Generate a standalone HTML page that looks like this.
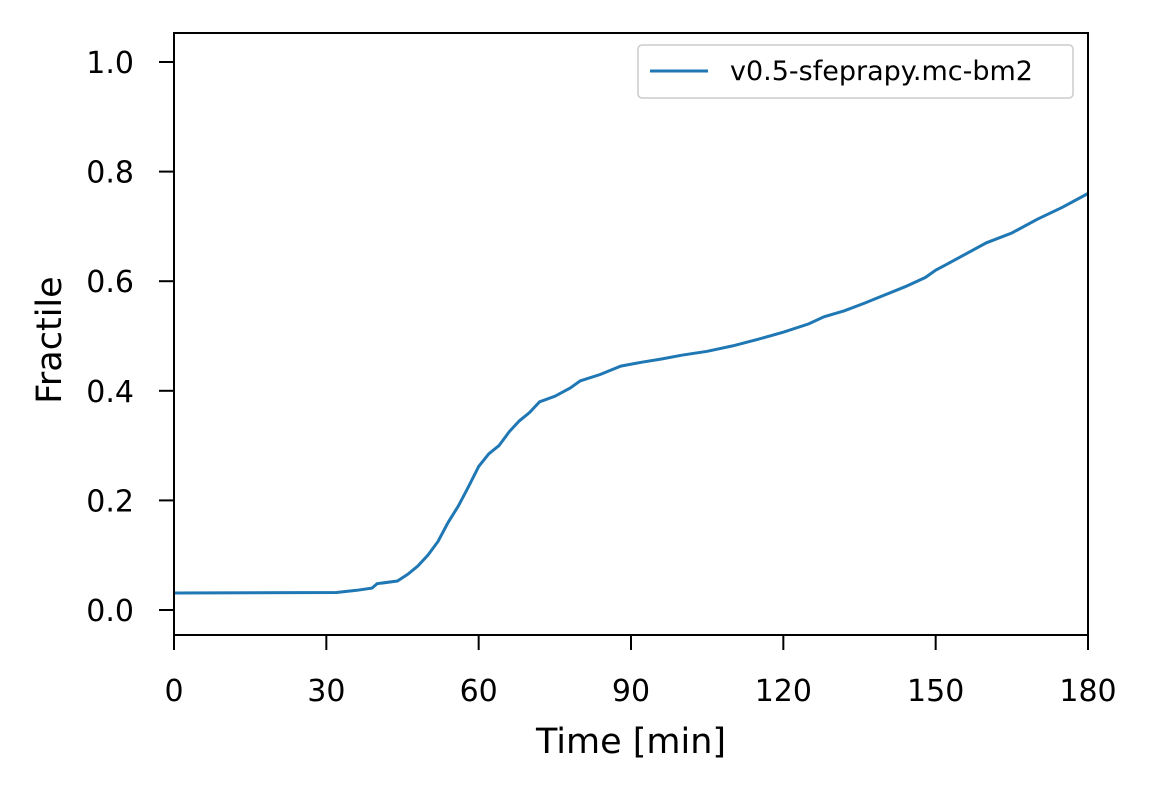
<!DOCTYPE html>
<html><head><meta charset="utf-8"><style>
body{margin:0;background:#fff}
svg{display:block;font-family:"DejaVu Sans","Liberation Sans",sans-serif}
</style></head><body>
<svg id="chart" width="1149" height="790">
<path id="series" fill="none" stroke="#1f77b4" stroke-width="3"/>
<rect x="174" y="33" width="914" height="602" fill="none" stroke="#000" stroke-width="2"/>
<g id="ticks"></g>
<text x="631" y="753" text-anchor="middle" font-size="35">Time [min]</text>
<text transform="translate(61,340) rotate(-90)" text-anchor="middle" font-size="35">Fractile</text>
<g>
<rect x="638" y="45" width="435" height="53" rx="4" fill="#fff" stroke="#ccc" stroke-width="1.5"/>
<line x1="650" y1="71" x2="708" y2="71" stroke="#1f77b4" stroke-width="3"/>
<text x="730" y="80" font-size="27">v0.5-sfeprapy.mc-bm2</text>
</g>
</svg>
<script>
const times=[0,32,36,39,40,44,46,48,50,52,54,56,58,60,62,64,66,68,70,72,75,78,80,84,88,92,96,100,105,110,115,120,125,128,132,136,140,144,148,150,152,156,160,165,170,175,180];
const fractiles=[0.031,0.032,0.036,0.04,0.048,0.053,0.065,0.08,0.10,0.125,0.16,0.19,0.225,0.262,0.285,0.30,0.325,0.345,0.36,0.38,0.39,0.405,0.418,0.43,0.445,0.452,0.458,0.465,0.472,0.482,0.494,0.507,0.522,0.535,0.546,0.56,0.575,0.59,0.607,0.62,0.63,0.65,0.67,0.688,0.713,0.735,0.76];
const xTicks=[0,30,60,90,120,150,180];
const yTicks=[0.0,0.2,0.4,0.6,0.8,1.0];
const X=t=>174+(t-0)/180*914;
const Y=v=>610-v*548;
const ns="http://www.w3.org/2000/svg";
document.getElementById('series').setAttribute('d',times.map((t,i)=>(i?'L':'M')+X(t).toFixed(1)+','+Y(fractiles[i]).toFixed(1)).join(''));
const g=document.getElementById('ticks');
xTicks.forEach(t=>{
 const l=document.createElementNS(ns,'line');l.setAttribute('x1',X(t));l.setAttribute('x2',X(t));l.setAttribute('y1',635);l.setAttribute('y2',650);l.setAttribute('stroke','#000');l.setAttribute('stroke-width','2');
 
 
 g.appendChild(l);
 const tx=document.createElementNS(ns,'text');tx.setAttribute('x',X(t));tx.setAttribute('y',701);tx.setAttribute('text-anchor','middle');tx.setAttribute('font-size','30');tx.textContent=t;
 
 
 g.appendChild(tx);
});
yTicks.forEach(v=>{
 const l=document.createElementNS(ns,'line');l.setAttribute('x1',159);l.setAttribute('x2',174);l.setAttribute('y1',Y(v));l.setAttribute('y2',Y(v));l.setAttribute('stroke','#000');l.setAttribute('stroke-width','2');
 
 
 g.appendChild(l);
 const tx=document.createElementNS(ns,'text');tx.setAttribute('x',134);tx.setAttribute('y',Y(v)+11);tx.setAttribute('text-anchor','end');tx.setAttribute('font-size','30');tx.textContent=v.toFixed(1);
 
 
 g.appendChild(tx);
});
</script>
</body></html>
